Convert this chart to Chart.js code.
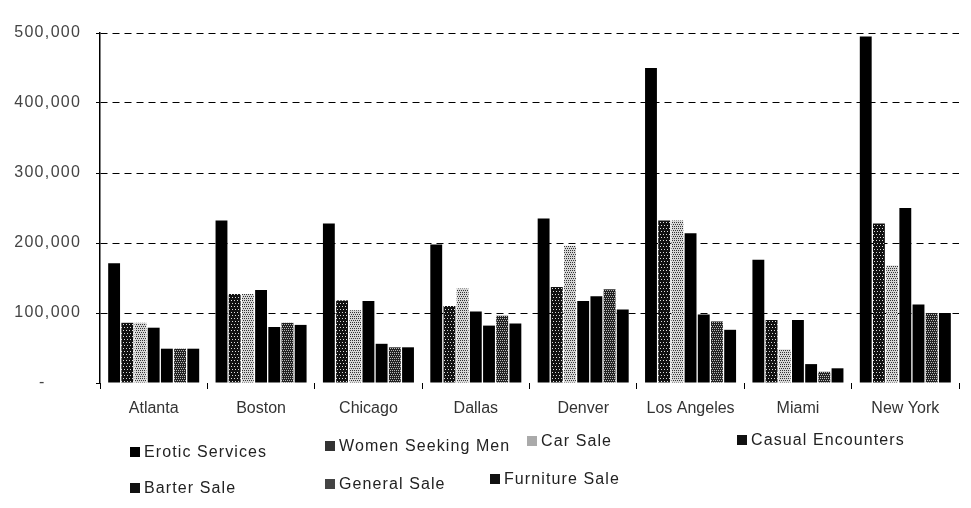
<!DOCTYPE html>
<html>
<head>
<meta charset="utf-8">
<script src="https://cdn.jsdelivr.net/npm/chart.js@4.4.1/dist/chart.umd.min.js"></script>
<style>
  html, body { margin: 0; padding: 0; background: #fff; }
  #wrap { position: relative; width: 971px; height: 508px; }
  #legend { position: absolute; left: 0; top: 0; width: 971px; height: 508px; pointer-events: none;
    font-family: "Liberation Sans", Arial, sans-serif; font-size: 16px; letter-spacing: 1.1px; color: #222; line-height: 18px; }
  .item { position: absolute; white-space: nowrap; }
  .box { display: inline-block; width: 10px; height: 10px; margin-right: 4px; vertical-align: 0px; }
</style>
</head>
<body>
<div id="wrap">
  <canvas id="chart" width="971" height="508"></canvas>
  <div id="legend"></div>
</div>
<script>
const cities = ["Atlanta", "Boston", "Chicago", "Dallas", "Denver", "Los Angeles", "Miami", "New York"];
const seriesNames = ["Erotic Services", "Women Seeking Men", "Car Sale", "Casual Encounters", "Barter Sale", "General Sale", "Furniture Sale"];

const eroticServices   = [171000, 232000, 228000, 198000, 235000, 450000, 176000, 495000];
const womenSeekingMen  = [86000, 127000, 118000, 110000, 137000, 232000, 90000, 228000];
const carSale          = [86000, 127000, 104000, 135000, 196000, 232000, 48000, 168000];
const casualEncounters = [79000, 133000, 117000, 102000, 117000, 214000, 90000, 250000];
const barterSale       = [49000, 80000, 56000, 82000, 124000, 98000, 27000, 112000];
const generalSale      = [49000, 86000, 51000, 96000, 134000, 88000, 16000, 100000];
const furnitureSale    = [49000, 83000, 51000, 85000, 105000, 76000, 21000, 100000];

const yTicks = [0, 100000, 200000, 300000, 400000, 500000];

// speckled fills to mimic the print textures
function speckle(bg, fg, step) {
  const c = document.createElement("canvas");
  c.width = 6; c.height = 6;
  const g = c.getContext("2d");
  g.fillStyle = bg;
  g.fillRect(0, 0, 6, 6);
  g.fillStyle = fg;
  for (let y = 0; y < 6; y += step) {
    for (let x = (y / step) % 2; x < 6; x += step) g.fillRect(x, y, 1, 1);
  }
  return g.createPattern(c, "repeat");
}

const darkDots = speckle("#111", "#ddd", 3);
const lightDots = speckle("#d6d6d6", "#333", 2);
const midDots = speckle("#222", "#bbb", 2);

const fills = ["#000", darkDots, lightDots, "#000", "#000", midDots, "#000"];
const legendFills = ["#000", "#333", "#aaa", "#111", "#111", "#444", "#111"];
const allValues = [eroticServices, womenSeekingMen, carSale, casualEncounters, barterSale, generalSale, furnitureSale];

const ctx = document.getElementById("chart").getContext("2d");

new Chart(ctx, {
  type: "bar",
  data: {
    labels: cities,
    datasets: seriesNames.map((name, i) => ({
      label: name,
      data: allValues[i],
      backgroundColor: fills[i],
      borderWidth: 0,
      barPercentage: 0.9,
      categoryPercentage: 0.86
    }))
  },
  options: {
    responsive: false,
    animation: false,
    layout: { padding: { top: 33, right: 12, left: 0, bottom: 0 } },
    plugins: { legend: { display: false }, tooltip: { enabled: false } },
    scales: {
      x: {
        afterFit: s => { s.height = 125; },
        border: { display: false },
        grid: { offset: true, drawOnChartArea: false, tickLength: 6, color: "#000" },
        ticks: { padding: 10, color: "#333", font: { family: "Liberation Sans", size: 16 } }
      },
      y: {
        min: 0,
        max: 500000,
        afterFit: s => { s.width = 100; },
        afterBuildTicks: s => { s.ticks = yTicks.map(v => ({ value: v })); },
        border: { display: true, color: "#000", width: 1.5, dash: [7, 5] },
        grid: {
          color: c => (c.tick && c.tick.value === 0 ? "rgba(0,0,0,0)" : "#000"),
          lineWidth: 1,
          tickLength: 4,
          tickColor: "#000"
        },
        ticks: {
          padding: 16,
          color: "#444",
          font: { family: "Liberation Sans", size: 16 },
          callback: v => (v === 0 ? "-        " : v.toLocaleString("en-US").split("").join(String.fromCharCode(8202)))
        }
      }
    }
  }
});

// legend laid out like the original: 4 on the first row, 3 on the second
const legendPos = [[130, 443], [325, 437], [527, 432], [737, 431], [130, 479], [325, 475], [490, 470]];
const legend = document.getElementById("legend");
seriesNames.forEach((name, i) => {
  const d = document.createElement("div");
  d.className = "item";
  d.style.left = legendPos[i][0] + "px";
  d.style.top = legendPos[i][1] + "px";
  d.innerHTML = '<span class="box" style="background:' + legendFills[i] + '"></span>' + name;
  legend.appendChild(d);
});
</script>
</body>
</html>
